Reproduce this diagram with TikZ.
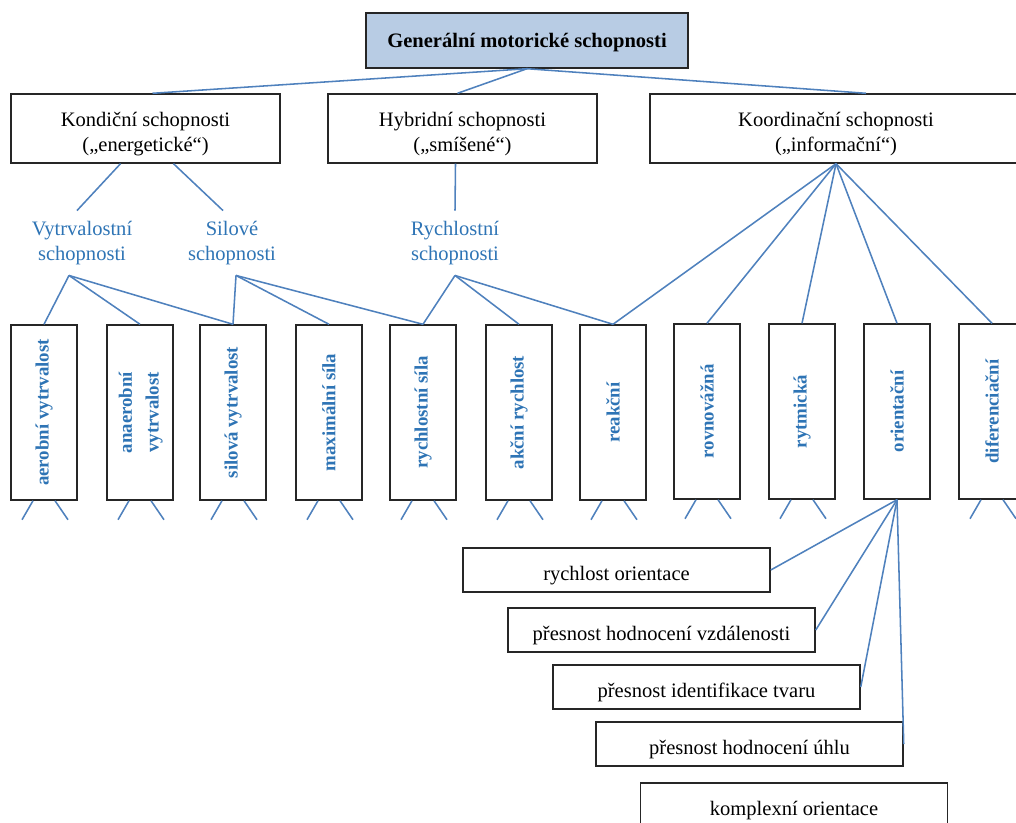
\documentclass[tikz,border=0pt]{standalone}
\usepackage{fontspec}
\setmainfont{Liberation Serif}
\usetikzlibrary{calc}
\definecolor{linkblue}{RGB}{79,129,189}
\definecolor{textblue}{RGB}{46,116,181}
\definecolor{headfill}{RGB}{184,204,228}
\tikzset{
  box/.style={draw=black!85, line width=1pt, fill=white, inner sep=0pt, align=center, font=\fontsize{14.6}{17.8}\selectfont},
  twoline/.style={box, minimum width=6.725cm, minimum height=1.725cm, text height=36.4pt, text depth=3.2pt},
  vbox/.style={box, minimum width=1.65cm, minimum height=4.375cm, text=textblue, font=\fontsize{13.4}{19}\selectfont\bfseries},
  subbox/.style={box, minimum width=7.675cm, minimum height=1.1cm, text height=18.5pt, text depth=3.2pt},
  group/.style={text=textblue, align=center, inner sep=7.5pt, font=\fontsize{14.6}{17.5}\selectfont},
  link/.style={draw=linkblue, line width=1.1pt},
}

\begin{document}
\begin{tikzpicture}[x=0.025cm, y=-0.025cm]
%%%%% START %%%%%
\clip (0,0) rectangle (1016,822);

\node[box, fill=headfill, minimum width=8.05cm, minimum height=1.375cm, text height=12.7pt, text depth=3.2pt, font=\fontsize{14.6}{17.8}\selectfont\bfseries] (gen) at (527,40.5) {Generální motorické schopnosti};

\node[twoline] (kond) at (145.5,128.5) {Kondiční schopnosti\\(„energetické“)};
\node[twoline] (hyb) at (462.5,128.5) {Hybridní schopnosti\\(„smíšené“)};
\node[twoline, minimum width=9.3cm] (koord) at (836,128.5) {Koordinační schopnosti\\(„informační“)};

\draw[link] (gen.south) -- ($(kond.north)+(7,0)$);
\draw[link] (gen.south) -- ($(hyb.north)+(-5,0)$);
\draw[link] (gen.south) -- ($(koord.north)+(30,0)$);

\node[group] (vytr) at (82,243) {Vytrvalostní\\schopnosti};
\node[group] (sil) at (232,243) {Silové\\schopnosti};
\node[group] (rych) at (455,243) {Rychlostní\\schopnosti};

\draw[link] ($(kond.south)+(-25,0)$) -- ($(vytr.north)+(-5,0)$);
\draw[link] ($(kond.south)+(28,0)$) -- ($(sil.north)+(-9,0)$);
\draw[link] ($(hyb.south)+(-7,0)$) -- (rych.north);

% svisle boxy
\node[vbox] (aer) at (44,412.5) {\rotatebox{90}{aerobní vytrvalost}};
\node[vbox] (anaer) at (140,412.5) {\rotatebox{90}{\begin{tabular}{@{}c@{}}anaerobní\\vytrvalost\end{tabular}}};
\node[vbox] (silvyt) at (233,412.5) {\rotatebox{90}{silová vytrvalost}};
\node[vbox] (maxs) at (329,412.5) {\rotatebox{90}{maximální síla}};
\node[vbox] (rychs) at (423,412.5) {\rotatebox{90}{rychlostní síla}};
\node[vbox] (akc) at (519,412.5) {\rotatebox{90}{akční rychlost}};
\node[vbox] (reak) at (613,412.5) {\rotatebox{90}{reakční}};
\node[vbox] (rovn) at (707,411.5) {\rotatebox{90}{rovnovážná}};
\node[vbox] (rytm) at (802,411.5) {\rotatebox{90}{rytmická}};
\node[vbox] (ori) at (897,411.5) {\rotatebox{90}{orientační}};
\node[vbox] (dif) at (992,411.5) {\rotatebox{90}{diferenciační}};

\draw[link] ($(vytr.south)+(-13,0)$) -- (aer.north);
\draw[link] ($(vytr.south)+(-13,0)$) -- (anaer.north);
\draw[link] ($(vytr.south)+(-13,0)$) -- (silvyt.north);
\draw[link] ($(sil.south)+(4,0)$) -- (silvyt.north);
\draw[link] ($(sil.south)+(4,0)$) -- (maxs.north);
\draw[link] ($(sil.south)+(4,0)$) -- (rychs.north);
\draw[link] (rych.south) -- (rychs.north);
\draw[link] (rych.south) -- (akc.north);
\draw[link] (rych.south) -- (reak.north);
\draw[link] (koord.south) -- (reak.north);
\draw[link] (koord.south) -- (rovn.north);
\draw[link] (koord.south) -- (rytm.north);
\draw[link] (koord.south) -- (ori.north);
\draw[link] (koord.south) -- (dif.north);

% vybezky pod boxy
\draw[link] ($(aer.south)+(-11,0)$) -- ++(-11,19) ($(aer.south)+(11,0)$) -- ++(13,19);
\draw[link] ($(anaer.south)+(-11,0)$) -- ++(-11,19) ($(anaer.south)+(11,0)$) -- ++(13,19);
\draw[link] ($(silvyt.south)+(-11,0)$) -- ++(-11,19) ($(silvyt.south)+(11,0)$) -- ++(13,19);
\draw[link] ($(maxs.south)+(-11,0)$) -- ++(-11,19) ($(maxs.south)+(11,0)$) -- ++(13,19);
\draw[link] ($(rychs.south)+(-11,0)$) -- ++(-11,19) ($(rychs.south)+(11,0)$) -- ++(13,19);
\draw[link] ($(akc.south)+(-11,0)$) -- ++(-11,19) ($(akc.south)+(11,0)$) -- ++(13,19);
\draw[link] ($(reak.south)+(-11,0)$) -- ++(-11,19) ($(reak.south)+(11,0)$) -- ++(13,19);
\draw[link] ($(rovn.south)+(-11,0)$) -- ++(-11,19) ($(rovn.south)+(11,0)$) -- ++(13,19);
\draw[link] ($(rytm.south)+(-11,0)$) -- ++(-11,19) ($(rytm.south)+(11,0)$) -- ++(13,19);
\draw[link] ($(dif.south)+(-11,0)$) -- ++(-11,19) ($(dif.south)+(11,0)$) -- ++(13,19);

% orientacni schopnosti
\node[subbox] (so1) at (616.5,570) {rychlost orientace};
\node[subbox] (so2) at (661.5,630) {přesnost hodnocení vzdálenosti};
\node[subbox] (so3) at (706.5,687) {přesnost identifikace tvaru};
\node[subbox] (so4) at (749.5,744) {přesnost hodnocení úhlu};
\node[subbox] (so5) at (794,805) {komplexní orientace};

\draw[link] (ori.south) -- (so1.east);
\draw[link] (ori.south) -- (so2.east);
\draw[link] (ori.south) -- (so3.east);
\draw[link] (ori.south) -- (so4.east);

%%%%% END %%%%%
\end{tikzpicture}
\end{document}
